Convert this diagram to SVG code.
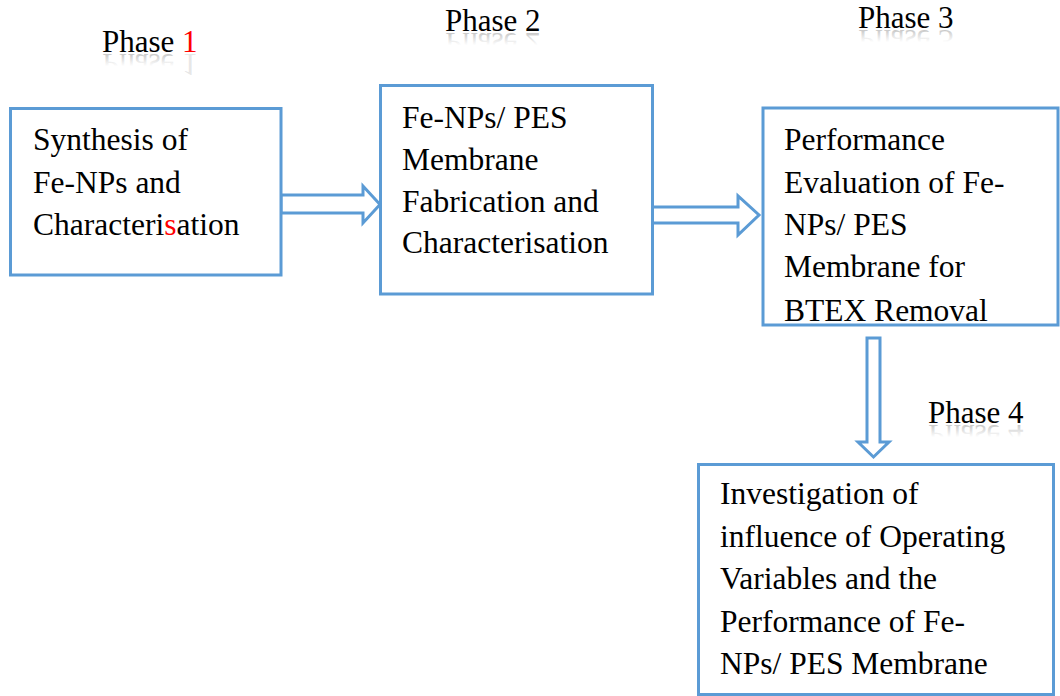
<svg xmlns="http://www.w3.org/2000/svg" width="1060" height="696" viewBox="0 0 1060 696">
<style>
.box{fill:#fff;stroke:#5B9BD5;stroke-width:3}
.arr{fill:#fff;stroke:#5B9BD5;stroke-width:3;stroke-linejoin:miter}
text{font-family:"Liberation Serif","Times New Roman",Times,serif}
.lbl{font-size:31.5px}
.ph{font-size:31px}
</style>
<defs>
<linearGradient id="fade" x1="0" y1="0" x2="0" y2="1">
<stop offset="0" stop-color="#888" stop-opacity="0"/>
<stop offset="0.45" stop-color="#888" stop-opacity="0"/>
<stop offset="0.95" stop-color="#777" stop-opacity="0.6"/>
</linearGradient>
<clipPath id="clip3"><rect x="764" y="109" width="296" height="212.5"/></clipPath>
</defs>

<g id="phase1" fill="#000" color="#FF0000">
<text id="p1" class="ph" x="102" y="52">Phase <tspan fill="currentColor">1</tspan></text>
<use href="#p1" fill="url(#fade)" color="rgba(170,170,170,0.3)" transform="translate(0,106) scale(1,-1)"/>
</g>
<g id="phase2" fill="#000">
<text id="p2" class="ph" x="445" y="31">Phase 2</text>
<use href="#p2" fill="url(#fade)" transform="translate(0,64) scale(1,-1)"/>
</g>
<g id="phase3" fill="#000">
<text id="p3" class="ph" x="858" y="28">Phase 3</text>
<use href="#p3" fill="url(#fade)" transform="translate(0,58) scale(1,-1)"/>
</g>
<g id="phase4" fill="#000">
<text id="p4" class="ph" x="928" y="423">Phase 4</text>
<use href="#p4" fill="url(#fade)" transform="translate(0,848) scale(1,-1)"/>
</g>

<g id="connectors">
<polygon class="arr" points="281,195 363,195 363,186 380,204.5 363,223 363,213 281,213"/>
<polygon class="arr" points="652,207 738,207 738,196 759,215 738,235 738,223 652,223"/>
<polygon class="arr" points="867,338 880,338 880,442 889,442 873.5,457 858,442 867,442"/>
</g>

<g id="node1" fill="#000">
<rect class="box" x="10.5" y="108.5" width="270.5" height="166.5"/>
<text class="lbl" x="33" y="150">Synthesis of</text>
<text class="lbl" x="33" y="193">Fe-NPs and</text>
<text class="lbl" x="33" y="235">Characteri<tspan fill="#FF0000">s</tspan>ation</text>
</g>
<g id="node2" fill="#000">
<rect class="box" x="380.5" y="85.5" width="272" height="208.5"/>
<text class="lbl" x="402" y="128">Fe-NPs/ PES</text>
<text class="lbl" x="402" y="170">Membrane</text>
<text class="lbl" x="402" y="212">Fabrication and</text>
<text class="lbl" x="402" y="253">Characterisation</text>
</g>
<g id="node3" fill="#000">
<rect class="box" x="763" y="108" width="295" height="217"/>
<g clip-path="url(#clip3)">
<text class="lbl" x="784" y="150">Performance</text>
<text class="lbl" x="784" y="193">Evaluation of Fe-</text>
<text class="lbl" x="784" y="235">NPs/ PES</text>
<text class="lbl" x="784" y="277">Membrane for</text>
<text class="lbl" x="784" y="321">BTEX Removal</text>
</g>
</g>
<g id="node4" fill="#000">
<rect class="box" x="698.5" y="464.5" width="355" height="230"/>
<text class="lbl" x="720" y="504">Investigation of</text>
<text class="lbl" x="720" y="547">influence of Operating</text>
<text class="lbl" x="720" y="589">Variables and the</text>
<text class="lbl" x="720" y="632">Performance of Fe-</text>
<text class="lbl" x="720" y="674">NPs/ PES Membrane</text>
</g>
</svg>
